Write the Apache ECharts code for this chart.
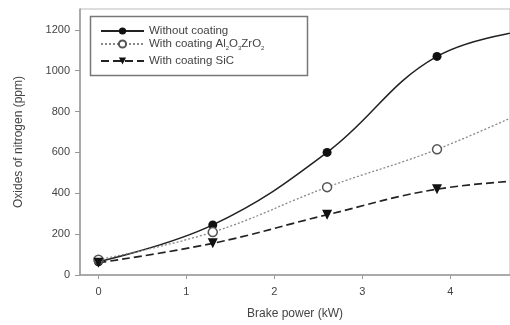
<!DOCTYPE html>
<html>
<head>
<meta charset="utf-8">
<script src="https://cdn.jsdelivr.net/npm/echarts@6/dist/echarts.min.js"></script>
<style>
  html, body {margin: 0; padding: 0; background: #fff;}
  #chart {width: 510px; height: 325px;}
</style>
</head>
<body>
<div id="chart"></div>
<script>
// brake power (kW) at each measured point
const power = [0, 1.3, 2.6, 3.85, 5.1];
const withoutCoating = [65, 245, 600, 1070, 1210];
const withAlZr = [75, 210, 430, 615, 850];
const withSiC = [60, 155, 295, 420, 470];
const xTicks = [0, 1, 2, 3, 4];
const yTicks = [0, 200, 400, 600, 800, 1000, 1200];

const myChart = echarts.init(document.getElementById('chart'));

const toPairs = (xs, ys) => xs.map((x, i) => [x, ys[i]]);
const textColor = '#444';
const axisColor = '#999';

const option = {
  backgroundColor: '#fff',
  animation: false,
  grid: {
    left: 80,
    top: 9,
    right: -2,
    bottom: 49,
    show: true,
    borderColor: '#bbb',
    borderWidth: 1,
  },
  legend: [
    {
      left: 100, top: 25,
      data: ['Without coating'],
    },
    {
      left: 100, top: 38,
      data: ['With coating Al2O3ZrO2'],
      formatter: () => 'With coating Al{sub|2}O{sub|3}ZrO{sub|2}',
    },
    {
      left: 100, top: 55,
      data: ['With coating SiC'],
    },
  ].map(l => Object.assign({
    orient: 'vertical',
    itemWidth: 43,
    itemHeight: 9,
    itemGap: 0,
    padding: 0,
    textStyle: {
      color: textColor, fontSize: 11.5, fontFamily: 'Liberation Sans',
      rich: {sub: {fontSize: 6, verticalAlign: 'bottom', padding: [8, 0, 0, 0], color: textColor}},
    },
  }, l)),
  graphic: [{
    type: 'rect',
    left: 88, top: 14,
    shape: {width: 217, height: 59},
    style: {fill: 'none', stroke: '#777', lineWidth: 1.5},
  }],
  xAxis: {
    type: 'value',
    min: -0.21,
    max: 4.68,
    name: 'Brake power (kW)',
    nameLocation: 'middle',
    nameGap: 33,
    nameTextStyle: {color: textColor, fontSize: 12, fontFamily: 'Liberation Sans'},
    axisLine: {onZero: false, lineStyle: {color: axisColor, width: 1.5}},
    axisTick: {show: true, length: 4, customValues: xTicks, lineStyle: {color: axisColor}},
    splitLine: {show: false},
    axisLabel: {
      color: textColor, fontSize: 11, fontFamily: 'Liberation Sans', margin: 11,
      customValues: xTicks,
      formatter: v => String(v),
    },
  },
  yAxis: {
    type: 'value',
    min: 0,
    max: 1302,
    name: 'Oxides of nitrogen (ppm)',
    nameLocation: 'middle',
    nameGap: 55,
    nameTextStyle: {color: textColor, fontSize: 12, fontFamily: 'Liberation Sans'},
    axisLine: {show: true, onZero: false, lineStyle: {color: axisColor, width: 1.5}},
    axisTick: {show: true, length: 5, customValues: yTicks, lineStyle: {color: axisColor}},
    splitLine: {show: false},
    axisLabel: {
      color: textColor, fontSize: 11, fontFamily: 'Liberation Sans', margin: 10,
      customValues: yTicks,
      formatter: v => String(v),
    },
  },
  series: [
    {
      name: 'Without coating',
      type: 'line',
      smooth: 0.4,
      data: toPairs(power, withoutCoating),
      symbol: 'circle',
      symbolSize: 9,
      itemStyle: {color: '#111'},
      lineStyle: {color: '#222', width: 1.5, type: 'solid'},
    },
    {
      name: 'With coating Al2O3ZrO2',
      type: 'line',
      smooth: 0.4,
      data: toPairs(power, withAlZr),
      symbol: 'circle',
      symbolSize: 9,
      itemStyle: {color: '#fff', borderColor: '#555', borderWidth: 1.5},
      lineStyle: {color: '#888', width: 1.3, type: [2, 2]},
    },
    {
      name: 'With coating SiC',
      type: 'line',
      smooth: 0.4,
      data: toPairs(power, withSiC),
      symbol: 'triangle',
      symbolRotate: 180,
      symbolSize: 10,
      itemStyle: {color: '#111'},
      lineStyle: {color: '#222', width: 1.7, type: [8, 4]},
    },
  ],
};

myChart.setOption(option);
</script>
</body>
</html>
